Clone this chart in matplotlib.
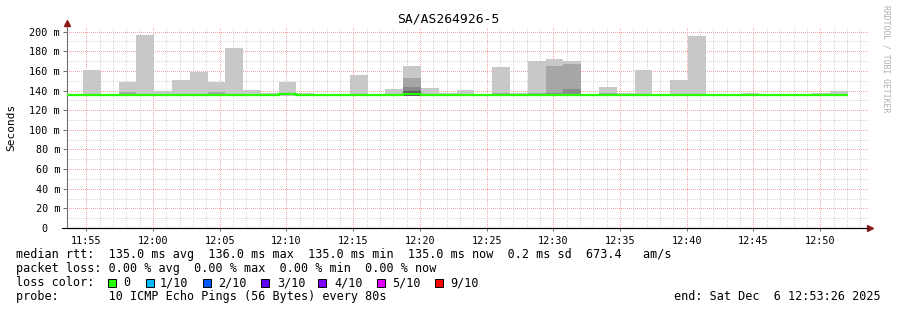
import numpy as np
import matplotlib
matplotlib.use("Agg")
import matplotlib.pyplot as plt
from matplotlib.patches import Rectangle

W, H = 897, 310
MONO = "DejaVu Sans Mono"

# time axis in seconds since midnight
x_start, x_end = 42813, 46415
first_bin = 42805
step = 80

# smoke layers (ms), outermost first; nan = nothing visible
smoke_max = [136, 161.2, 136, 148.3, 196.2, 139.1, 150.3, 158.5, 149.0, 183.7,
             140.1, 137.4, 148.3, 137.8, 136, 136, 156.1, 136, 141.8, 165.3,
             142.9, 137.0, 140.1, 136, 164.3, 137.0, 169.7, 172.4, 170.4, 136,
             143.9, 137.0, 161.2, 136, 151.0, 195.2, 136, 136, 137.0, 136,
             136, 136, 137.0, 140.0]
smoke_2 = [np.nan, 136.5, np.nan, 138.0, np.nan, np.nan, np.nan, np.nan, 138.0, np.nan,
           np.nan, np.nan, np.nan, np.nan, np.nan, np.nan, np.nan, np.nan, 136.7, 153.0,
           np.nan, np.nan, np.nan, np.nan, 137.0, np.nan, 137.0, 164.5, 166.5, np.nan,
           137.0, np.nan, np.nan, np.nan, np.nan, np.nan, np.nan, np.nan, np.nan, np.nan,
           np.nan, np.nan, np.nan, np.nan]
smoke_3 = [np.nan] * 19 + [143.2] + [np.nan] * 7 + [137.4, 141.8] + [np.nan] * 15
smoke_4 = [np.nan] * 19 + [140.0] + [np.nan] * 24
median = [135, 135, 135, 135, 135, 135, 135, 135, 135, 135,
          135, 135, 136.3, 135, 135, 135, 135, 135, 135, 136.4,
          135, 135, 135, 135, 135, 135, 135, 135, 135, 135,
          135, 135, 135, 135, 135, 135, 135, 135, 135, 135,
          135, 135, 135, 135]

time_labels = ["11:55", "12:00", "12:05", "12:10", "12:15", "12:20",
               "12:25", "12:30", "12:35", "12:40", "12:45", "12:50"]
y_ticks = [0, 20, 40, 60, 80, 100, 120, 140, 160, 180, 200]
y_labels = ["0  "] + [f"{v} m" for v in y_ticks[1:]]

loss_labels = ["0", "1/10", "2/10", "3/10", "4/10", "5/10", "9/10"]
loss_colors = ["#26ff00", "#00b8ff", "#0059ff", "#5e00ff", "#7e00ff", "#dd00ff", "#ff0000"]
loss_box_x = [108, 146, 203, 261, 318, 377, 435]
loss_text_x = [123, 160, 218, 277, 334, 392, 450]

fig = plt.figure(figsize=(W / 100, H / 100), dpi=100)
fig.patch.set_facecolor("white")

left, right, top, bottom = 67, 868, 27, 228
ax = fig.add_axes([left / W, 1 - bottom / H, (right - left) / W, (bottom - top) / H])
ymax = (bottom - top) / 0.982
ax.set_xlim(x_start, x_end)
ax.set_ylim(0, ymax)

# grid (dotted, crisp)
for s in range(43200 - 5 * 60, x_end, 60):
    major = (s % 300 == 0)
    ax.axvline(s, color="#f5a5a5" if major else "#d8d8d8", lw=0.72,
               ls=(0, (1, 1.6)), antialiased=False, zorder=1 if major else 0)
for v in range(10, 210, 10):
    major = (v % 20 == 0)
    ax.axhline(v, color="#f5a5a5" if major else "#d8d8d8", lw=0.72,
               ls=(0, (1, 1.6)), antialiased=False, zorder=1 if major else 0)

# smoke
starts = first_bin + step * np.arange(len(smoke_max))
base = 134.5
shades = ["#c8c8c8", "#a6a6a6", "#8a8a8a", "#5e5e5e"]
for layer, col in zip([smoke_max, smoke_2, smoke_3, smoke_4], shades):
    vals = np.array(layer, dtype=float)
    ax.bar(starts, vals - base, bottom=base, width=step, align="edge",
           color=col, lw=0, zorder=2)

# median line
edges = np.append(starts, starts[-1] + step)
ax.stairs(median, edges, color="#26ff00", lw=1.6, zorder=3, baseline=None)

# axes styling
for sp in ["top", "right"]:
    ax.spines[sp].set_visible(False)
ax.spines["left"].set_color("#707070")
ax.spines["left"].set_linewidth(0.8)
ax.spines["bottom"].set_color("black")
ax.spines["bottom"].set_linewidth(0.8)
ax.set_yticks(y_ticks)
ax.set_yticklabels(y_labels, fontfamily=MONO, fontsize=7.3)
tick_pos = [43200 - 300 + 300 * i for i in range(len(time_labels))]
ax.set_xticks(tick_pos)
ax.set_xticklabels(time_labels, fontfamily=MONO, fontsize=7.3)
ax.tick_params(axis="y", length=3, width=0.7, color="#707070", pad=2)
ax.tick_params(axis="x", length=2, width=0.7, color="#707070", pad=4)

# axis extensions and arrows
ax.plot([0, 0], [1, 1.02], transform=ax.transAxes, color="#707070", lw=0.8, clip_on=False)
ax.plot([0], [1.022], marker="^", ms=4, color="#8b1a1a", transform=ax.transAxes, clip_on=False)
ax.plot([-0.006, 1.0], [0, 0], transform=ax.transAxes, color="black", lw=0.8, clip_on=False)
ax.plot([1.003], [0], marker=">", ms=4, color="#8b1a1a", transform=ax.transAxes, clip_on=False)


def fx(px):
    return px / W


def fy(py):
    return 1 - py / H


fig.text(fx(448), fy(19), "SA/AS264926-5", family=MONO, fontsize=9.4, ha="center", va="center")
fig.text(fx(11), fy(127), "Seconds", family=MONO, fontsize=8, rotation=90, ha="center", va="center")
fig.text(fx(886), fy(59), "RRDTOOL / TOBI OETIKER", family=MONO, fontsize=5.9,
         rotation=-90, ha="center", va="center", color="#b0b0b0")

legend_size = 8.45
fig.text(fx(16), fy(254.7),
         "median rtt:  135.0 ms avg  136.0 ms max  135.0 ms min  135.0 ms now  0.2 ms sd  673.4   am/s",
         family=MONO, fontsize=legend_size, va="center")
fig.text(fx(16), fy(268.3), "packet loss: 0.00 % avg  0.00 % max  0.00 % min  0.00 % now",
         family=MONO, fontsize=legend_size, va="center")
fig.text(fx(16), fy(282.7), "loss color:", family=MONO, fontsize=legend_size, va="center")
for bx, tx, lab, col in zip(loss_box_x, loss_text_x, loss_labels, loss_colors):
    fig.add_artist(Rectangle((fx(bx), fy(286.5)), 7.5 / W, 7.5 / H, transform=fig.transFigure,
                             facecolor=col, edgecolor="black", lw=0.7))
    fig.text(fx(tx), fy(282.7), lab, family=MONO, fontsize=legend_size, va="center")
fig.text(fx(16), fy(296.3), "probe:       10 ICMP Echo Pings (56 Bytes) every 80s",
         family=MONO, fontsize=legend_size, va="center")
fig.text(fx(881), fy(296.3), "end: Sat Dec  6 12:53:26 2025",
         family=MONO, fontsize=legend_size, va="center", ha="right")

fig.savefig("out.png", dpi=100)
